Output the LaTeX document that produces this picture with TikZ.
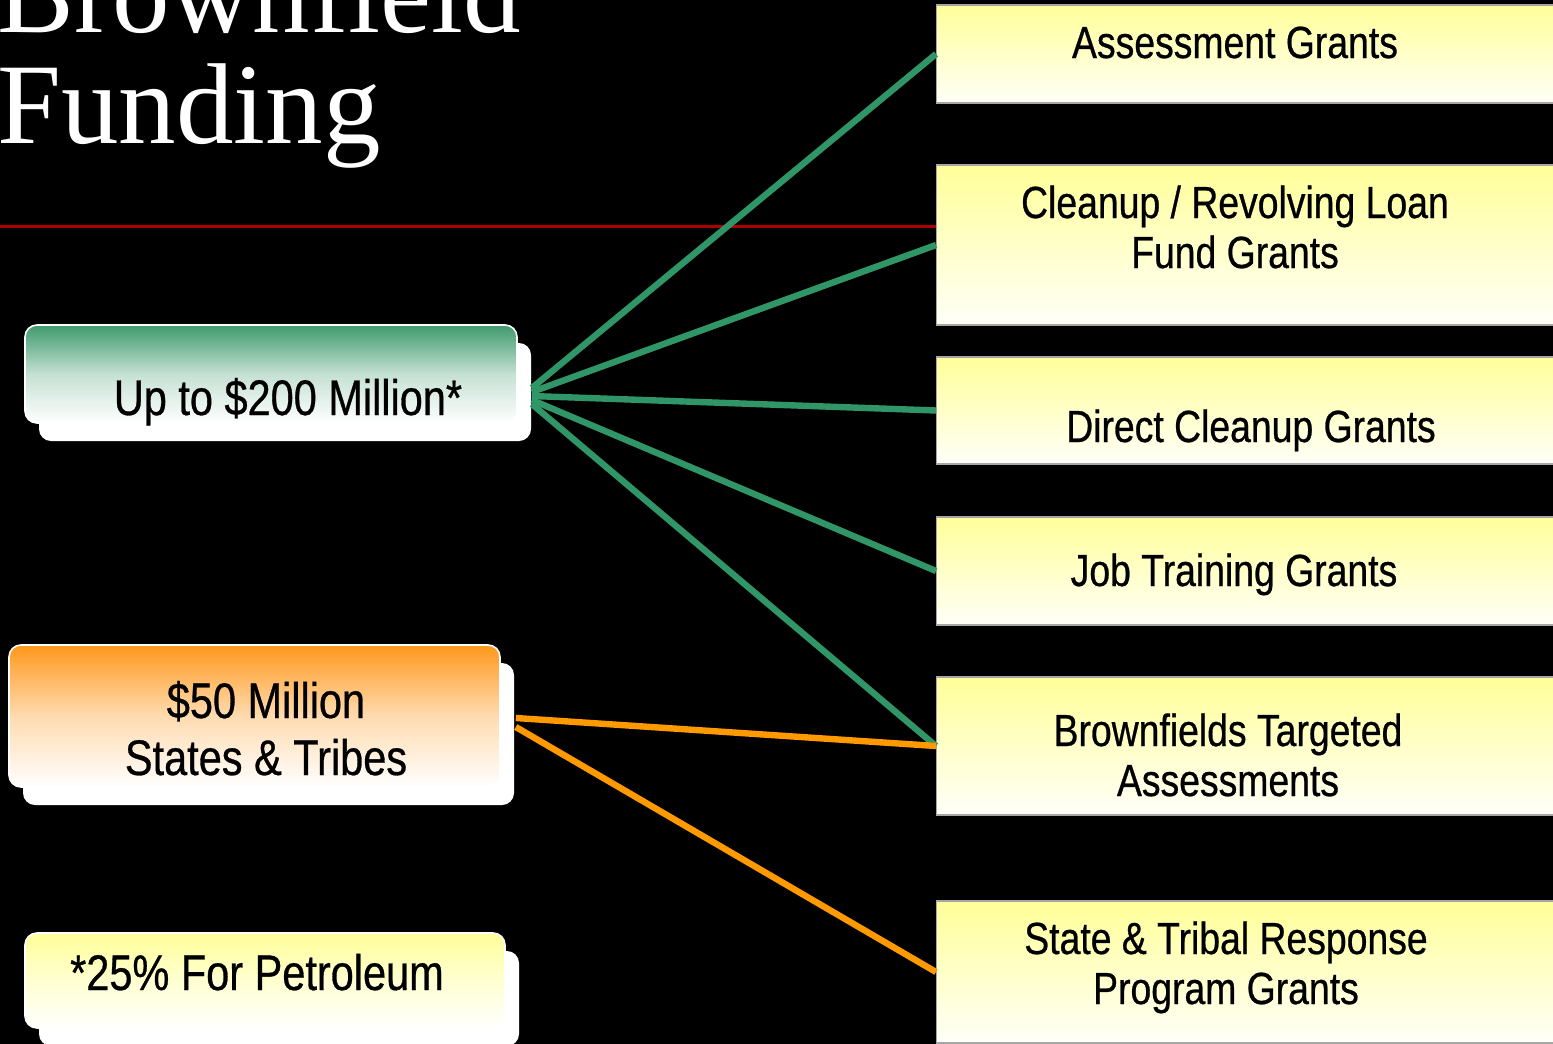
\documentclass[tikz,border=0pt]{standalone}
\usepackage{fontspec}
\setmainfont{Liberation Sans}[FakeStretch=0.83, FakeBold=0.6]
\newfontfamily\titlefont{Liberation Serif}
\usetikzlibrary{shadows}
\definecolor{fundgreen}{RGB}{62,154,108}
\definecolor{linkgreen}{RGB}{48,150,104}
\definecolor{fundorange}{RGB}{255,152,28}
\definecolor{linkorange}{RGB}{255,153,0}
\definecolor{grantyellow}{RGB}{255,255,153}
\definecolor{rulered}{RGB}{175,0,0}
\begin{document}
\begin{tikzpicture}[x=0.5pt,y=-0.5pt,
    fundbox/.style={rectangle, rounded corners=6pt, draw=white, line width=0.8pt,
        drop shadow={shadow xshift=7pt, shadow yshift=-9pt, fill=white, opacity=1}},
    grantbox/.style={rectangle, anchor=west, draw=gray!70, line width=0.6pt,
        minimum width=330pt, top color=grantyellow, bottom color=grantyellow!6},
    fundtext/.style={anchor=base, inner sep=0pt, align=center, font=\fontsize{25}{28.5}\selectfont},
    granttext/.style={anchor=base, inner sep=0pt, align=center, font=\fontsize{22.5}{25}\selectfont},
    greenlink/.style={linkgreen, line width=3.2pt},
    orangelink/.style={linkorange, line width=3.2pt}]
    \useasboundingbox (0,0) rectangle (1553,1044);
    \fill[black] (0,0) rectangle (1553,1044);
    % title and rule
    \node[anchor=base west, inner sep=0pt, align=left, text=white,
        font=\titlefont\fontsize{57.5}{55.5}\selectfont] (title) at (-3,143) {Brownfield\\Funding};
    \draw[rulered, line width=1.5pt] (0,226) -- (936,226);
    % funding boxes
    \node[fundbox, minimum width=246pt, minimum height=49pt,
        top color=fundgreen, bottom color=white, middle color=fundgreen!30] (g200) at (271,374) {};
    \node[fundtext] at (288,415) {Up to \$200 Million*};
    \node[fundbox, minimum width=245.5pt, minimum height=71pt,
        top color=fundorange, bottom color=white, middle color=fundorange!35] (o50) at (254.5,716) {};
    \node[fundtext] at (266,775) {\$50 Million\\States \& Tribes};
    \node[fundbox, minimum width=240pt, minimum height=47.5pt,
        top color=grantyellow, bottom color=white, middle color=grantyellow!45] (petro) at (265,980.5) {};
    \node[fundtext] at (257,990) {*25\% For Petroleum};
    % grant boxes
    \node[grantbox, minimum height=49pt] (assess) at (936,54) {};
    \node[granttext] at (1235,58) {Assessment Grants};
    \node[grantbox, minimum height=80pt] (clean) at (936,245) {};
    \node[granttext] at (1235,268) {Cleanup / Revolving Loan\\Fund Grants};
    \node[grantbox, minimum height=53.5pt] (direct) at (936,410.5) {};
    \node[granttext] at (1251,442) {Direct Cleanup Grants};
    \node[grantbox, minimum height=54pt] (job) at (936,571) {};
    \node[granttext] at (1234,586) {Job Training Grants};
    \node[grantbox, minimum height=69pt] (target) at (936,746) {};
    \node[granttext] at (1228,796) {Brownfields Targeted\\Assessments};
    \node[grantbox, minimum height=71pt] (state) at (936,972) {};
    \node[granttext] at (1226,1004) {State \& Tribal Response\\Program Grants};
    % links
    \foreach \g/\d in {assess/-7, clean/-9, direct/-11, job/-13, target/-15}
        \draw[greenlink] ([xshift=7pt,yshift=\d pt]g200.east) -- (\g.west);
    \draw[orangelink] ([xshift=7.5pt,yshift=-1pt]o50.east) -- (target.west);
    \draw[orangelink] ([xshift=7.5pt,yshift=-5.5pt]o50.east) -- (state.west);
\end{tikzpicture}
\end{document}
